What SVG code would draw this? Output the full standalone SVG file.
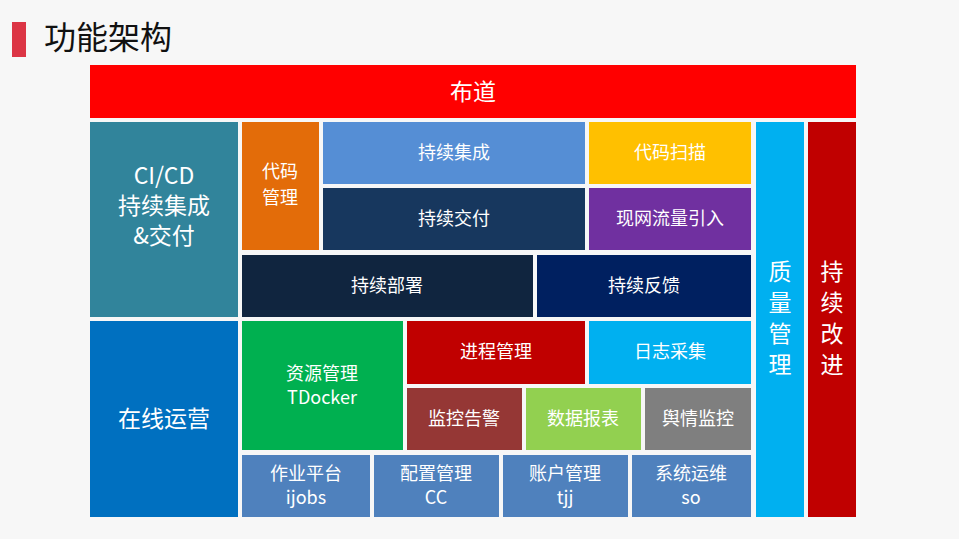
<svg xmlns="http://www.w3.org/2000/svg" width="959" height="539" viewBox="0 0 959 539">
<style>
text{font-family:"Noto Sans CJK SC","Noto Sans",sans-serif;fill:#fff;text-anchor:middle;dominant-baseline:central;font-size:18px;transform:translateY(-2px)}
.big{font-size:23px}
</style>
<rect width="959" height="539" fill="#f7f7f7"/>
<rect x="12" y="22" width="14" height="35" fill="#dc3545"/>
<text x="44" y="37" style="fill:#111;text-anchor:start;font-size:32px">功能架构</text>
<g id="budao"><rect x="90" y="65" width="766" height="53" fill="#ff0000"/><text x="473" y="92" class="big">布道</text></g>
<g id="cicd"><rect x="90" y="122" width="148" height="195" fill="#31849b"/><text x="164" y="176" class="big">CI/CD</text><text x="164" y="206" class="big">持续集成</text><text x="164" y="236" class="big">&amp;交付</text></g>
<g id="dmgl"><rect x="242" y="122" width="77" height="128" fill="#e36c09"/><text x="280" y="172">代码</text><text x="280" y="198">管理</text></g>
<g id="cxjc"><rect x="323" y="122" width="262" height="62" fill="#558ed5"/><text x="454" y="153">持续集成</text></g>
<g id="dmsm"><rect x="589" y="122" width="162" height="62" fill="#ffc000"/><text x="670" y="153">代码扫描</text></g>
<g id="cxjf"><rect x="323" y="188" width="262" height="62" fill="#17375e"/><text x="454" y="219">持续交付</text></g>
<g id="xwll"><rect x="589" y="188" width="162" height="62" fill="#7030a0"/><text x="670" y="219">现网流量引入</text></g>
<g id="cxbs"><rect x="242" y="255" width="291" height="62" fill="#10253f"/><text x="387" y="286">持续部署</text></g>
<g id="cxfk"><rect x="537" y="255" width="214" height="62" fill="#002060"/><text x="644" y="286">持续反馈</text></g>
<g id="zlgl"><rect x="756" y="122" width="48" height="395" fill="#00b0f0"/><text x="780" y="272" class="big">质</text><text x="780" y="303" class="big">量</text><text x="780" y="334" class="big">管</text><text x="780" y="365" class="big">理</text></g>
<g id="cxgj"><rect x="808" y="122" width="48" height="395" fill="#c00000"/><text x="832" y="272" class="big">持</text><text x="832" y="303" class="big">续</text><text x="832" y="334" class="big">改</text><text x="832" y="365" class="big">进</text></g>
<g id="zxyy"><rect x="90" y="321" width="148" height="196" fill="#0070c0"/><text x="164" y="419" class="big">在线运营</text></g>
<g id="zygl"><rect x="242" y="321" width="161" height="129" fill="#00b050"/><text x="322" y="374">资源管理</text><text x="322" y="398">TDocker</text></g>
<g id="jcgl"><rect x="407" y="321" width="178" height="63" fill="#c00000"/><text x="496" y="352">进程管理</text></g>
<g id="rzcj"><rect x="589" y="321" width="162" height="63" fill="#00b0f0"/><text x="670" y="352">日志采集</text></g>
<g id="jkgj"><rect x="407" y="388" width="115" height="62" fill="#953735"/><text x="464" y="419">监控告警</text></g>
<g id="sjbb"><rect x="526" y="388" width="115" height="62" fill="#92d050"/><text x="583" y="419">数据报表</text></g>
<g id="yqjk"><rect x="645" y="388" width="106" height="62" fill="#7f7f7f"/><text x="698" y="419">舆情监控</text></g>
<g id="zypt"><rect x="242" y="455" width="128" height="62" fill="#4f81bd"/><text x="306" y="474">作业平台</text><text x="306" y="498">ijobs</text></g>
<g id="pzgl"><rect x="374" y="455" width="125" height="62" fill="#4f81bd"/><text x="436" y="474">配置管理</text><text x="436" y="498">CC</text></g>
<g id="zhgl"><rect x="503" y="455" width="125" height="62" fill="#4f81bd"/><text x="565" y="474">账户管理</text><text x="565" y="498">tjj</text></g>
<g id="xtyw"><rect x="632" y="455" width="119" height="62" fill="#4f81bd"/><text x="691" y="474">系统运维</text><text x="691" y="498">so</text></g>
<g id="connectors"/>
</svg>
